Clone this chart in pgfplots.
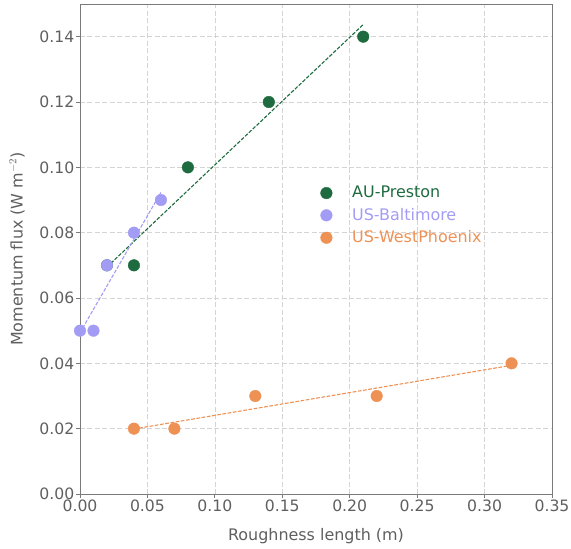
\documentclass[border=0pt]{standalone}
\usepackage{pgfplots}
\pgfplotsset{compat=1.18}
\usepackage{fontspec}
\setmainfont{DejaVu Sans}
\definecolor{cgreen}{HTML}{1F6B40}
\definecolor{clav}{HTML}{A39CF4}
\definecolor{corange}{HTML}{EE9155}
\definecolor{ctext}{HTML}{5F5F5F}
\definecolor{caxis}{HTML}{7A7A7A}
\begin{document}
\fontsize{16}{19}\selectfont
\begin{tikzpicture}
\begin{axis}[
  width=472bp, height=490bp, scale only axis,
  xmin=0, xmax=0.35, ymin=0, ymax=0.15,
  xtick={0,0.05,...,0.35}, ytick={0,0.02,...,0.14},
  xticklabel style={inner ysep=2bp},
  yticklabel style={inner xsep=1.5bp},
  /pgf/number format/.cd,fixed,fixed zerofill,precision=2,assume math mode=true,
  /pgfplots/.cd,
  tick label style={color=ctext, font=\fontsize{15.7}{18}\selectfont},
  label style={color=ctext, font=\fontsize{16}{19}\selectfont},
  xlabel={Roughness length (m)},
  ylabel={Momentum flux (W m$^{-2}$)},
  ylabel style={at={(axis description cs:-0.1335,0.5)}, anchor=center},
  xlabel style={at={(axis description cs:0.5,-0.0857)}, anchor=center},
  axis line style={caxis, line width=0.9pt},
  tick style={caxis, line width=0.8pt},
  tick align=outside, tick pos=left,
  major tick length=4bp,
  grid=major,
  grid style={dash pattern=on 5pt off 2.5pt, color=black!17, line width=0.7pt},
  clip=false,
  legend style={draw=none, fill=none, at={(0.503,0.637)}, anchor=north west,
    font=\fontsize{16}{19}\selectfont, row sep=4pt},
  legend cell align=left,
]
\addplot[only marks, mark=*, mark size=5.8bp, color=cgreen] coordinates {
  (0.02,0.07) (0.04,0.07) (0.08,0.10) (0.14,0.12) (0.21,0.14)};
\addlegendentry{\hspace{18bp}\textcolor{cgreen}{AU-Preston}}
\addplot[only marks, mark=*, mark size=5.8bp, color=clav] coordinates {
  (0.00,0.05) (0.01,0.05) (0.02,0.07) (0.04,0.08) (0.06,0.09)};
\addlegendentry{\hspace{18bp}\textcolor{clav}{US-Baltimore}}
\addplot[only marks, mark=*, mark size=5.8bp, color=corange] coordinates {
  (0.04,0.02) (0.07,0.02) (0.13,0.03) (0.22,0.03) (0.32,0.04)};
\addlegendentry{\hspace{18bp}\textcolor{corange}{US-WestPhoenix}}
\addplot[cgreen, dash pattern=on 3.7pt off 1.6pt, line width=1.1pt, forget plot] coordinates {(0.02,0.0695) (0.21,0.1437)};
\addplot[clav, dash pattern=on 3.7pt off 1.6pt, line width=1.1pt, forget plot] coordinates {(0.00,0.0494) (0.06,0.0923)};
\addplot[corange, dash pattern=on 3.7pt off 1.6pt, line width=1.1pt, forget plot] coordinates {(0.04,0.0199) (0.32,0.0394)};
\coordinate (O) at (rel axis cs:0,0);
\end{axis}
\pgfresetboundingbox
\path (O) ++(-80bp,-55bp) rectangle ++(571bp,549bp);
\end{tikzpicture}
\end{document}
